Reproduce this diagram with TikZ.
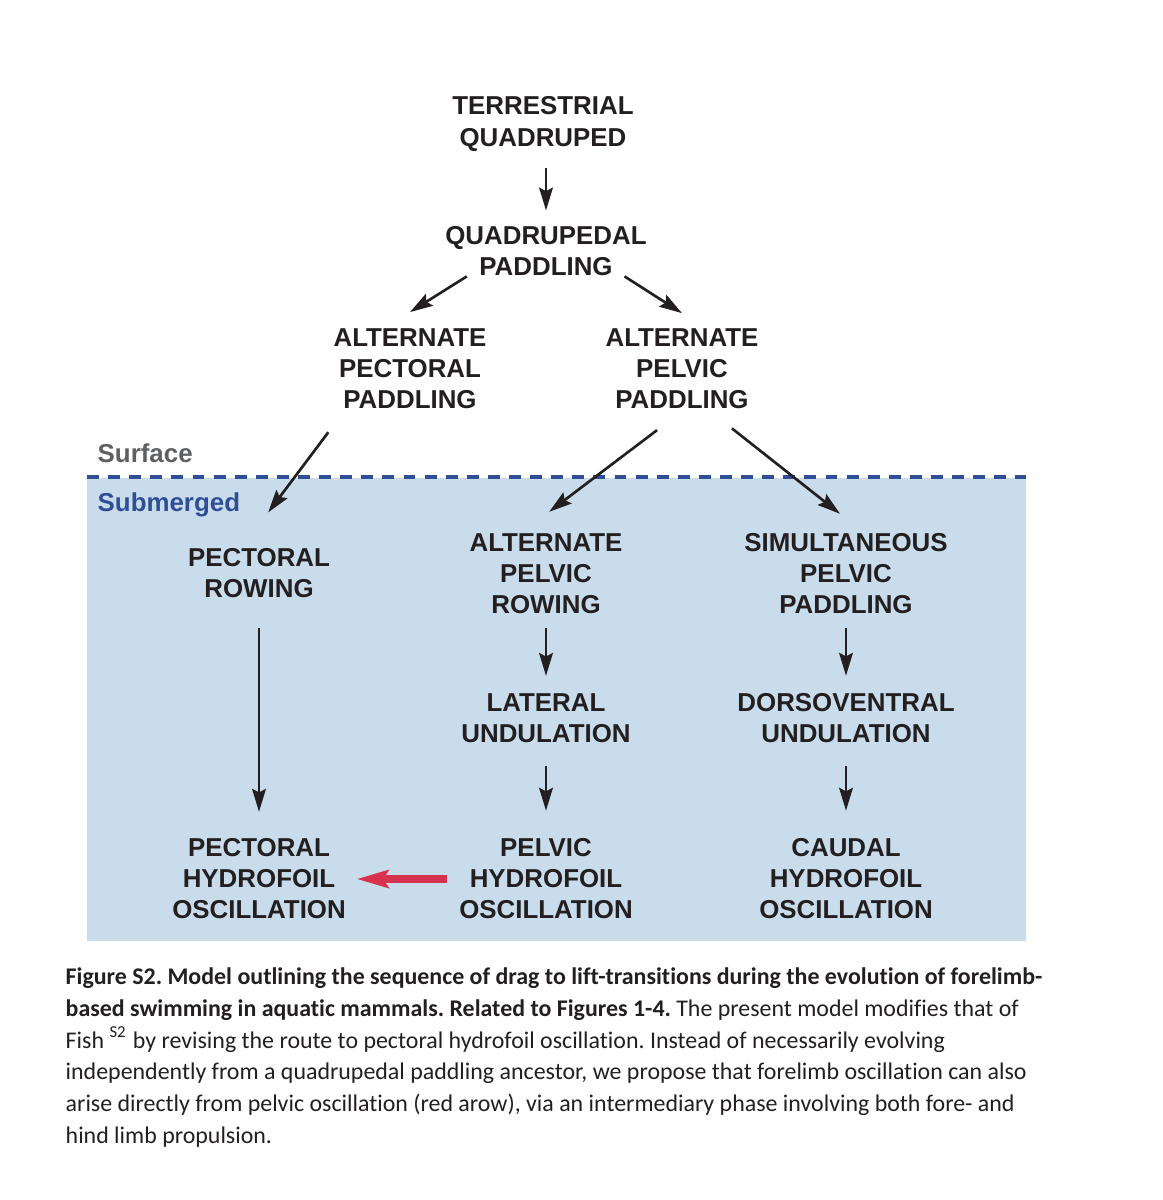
\documentclass[tikz,border=0pt]{standalone}
\usepackage{fontspec}
\setmainfont{Liberation Sans}
\newfontfamily\captionfont[Ligatures=NoCommon]{Carlito}
\usetikzlibrary{arrows.meta}
\definecolor{water}{HTML}{C8DCEC}
\definecolor{waterline}{HTML}{2F4E96}
\definecolor{surfacegray}{HTML}{5E5F61}
\definecolor{inkdark}{HTML}{231F20}
\definecolor{redarrow}{HTML}{D8334E}
\tikzset{
    stage/.style = {align=center, inner sep=0pt, text=inkdark, font=\bfseries\fontsize{7.36}{8.82}\selectfont},
    zone-label/.style = {anchor=base west, inner sep=0pt, font=\bfseries\fontsize{7.36}{8.82}\selectfont},
    flow-arrow/.style = {draw=inkdark, line width=0.75pt, -{Stealth[length=6.5pt, width=3.9pt, inset=1pt]}},
    red-arrow/.style = {draw=redarrow, line width=2pt, -{Stealth[length=9pt, width=5pt, inset=1.5pt]}},
}

\begin{document}
\frenchspacing
\begin{tikzpicture}[x=0.01cm, y=-0.01cm]
\fill[white] (0,0) rectangle (1162,1200);
\useasboundingbox (0,0) rectangle (1162,1200);

% water
\fill[water] (87,478) rectangle (1026,941);
\draw[waterline, line width=1.1pt, dash pattern=on 3.4pt off 2.6pt] (87,477) -- (1026,477);
\node[zone-label, text=surfacegray] (surface) at (97,462) {Surface};
\node[zone-label, text=waterline] (submerged) at (97,511) {Submerged};

% stages
\node[stage] (tq) at (543,124) {TERRESTRIAL\\QUADRUPED};
\node[stage] (qp) at (546,251) {QUADRUPEDAL\\PADDLING};
\node[stage] (apecp) at (410,369) {ALTERNATE\\PECTORAL\\PADDLING};
\node[stage] (apelp) at (682,369) {ALTERNATE\\PELVIC\\PADDLING};
\node[stage] (pr) at (259,573) {PECTORAL\\ROWING};
\node[stage] (apr) at (546,574) {ALTERNATE\\PELVIC\\ROWING};
\node[stage] (spp) at (846,574) {SIMULTANEOUS\\PELVIC\\PADDLING};
\node[stage] (lu) at (546,718) {LATERAL\\UNDULATION};
\node[stage] (du) at (846,718) {DORSOVENTRAL\\UNDULATION};
\node[stage] (pho) at (259,879) {PECTORAL\\HYDROFOIL\\OSCILLATION};
\node[stage] (pvho) at (546,879) {PELVIC\\HYDROFOIL\\OSCILLATION};
\node[stage] (cho) at (846,879) {CAUDAL\\HYDROFOIL\\OSCILLATION};

% transitions
\draw[flow-arrow, shorten <=4.7pt, shorten >=4.3pt] (tq.south -| qp.north) -- (qp.north);
\draw[flow-arrow] ([xshift=6.3pt]qp.south west) -- ([yshift=4.6pt]apecp.north);
\draw[flow-arrow] ([xshift=-6.5pt]qp.south east) -- ([yshift=4.3pt]apelp.north);
\draw[flow-arrow] ([shift={(-1.3pt,-6.4pt)}]apecp.south west) -- ([shift={(2.6pt,10pt)}]pr.north);
\draw[flow-arrow] ([shift={(-7.1pt,-5.8pt)}]apelp.south) -- ([shift={(0.9pt,6.1pt)}]apr.north);
\draw[flow-arrow] ([shift={(14.2pt,-5.3pt)}]apelp.south) -- ([shift={(-1.7pt,5.5pt)}]spp.north);
\draw[flow-arrow, shorten <=8.5pt, shorten >=7.5pt] (pr) -- (pho);
\draw[flow-arrow, shorten <=3.8pt, shorten >=4.8pt] (apr) -- (lu);
\draw[flow-arrow, shorten <=3.8pt, shorten >=4.8pt] (spp) -- (du);
\draw[flow-arrow, shorten <=6.5pt, shorten >=7.8pt] (lu) -- (pvho);
\draw[flow-arrow, shorten <=6.5pt, shorten >=7.8pt] (du) -- (cho);
\draw[red-arrow, shorten <=3.2pt, shorten >=2.9pt] (pvho) -- (pho);

% caption
\node[anchor=base west, inner sep=0pt, align=left, text=inkdark, font=\captionfont\fontsize{6.8}{9}\selectfont] (caption) at (65,1143) {%
\textbf{Figure S2. Model outlining the sequence of drag to lift-transitions during the evolution of forelimb-}\\
\textbf{based swimming in aquatic mammals. Related to Figures 1-4.} The present model modifies that of\\
Fish \textsuperscript{S2} by revising the route to pectoral hydrofoil oscillation. Instead of necessarily evolving\\
independently from a quadrupedal paddling ancestor, we propose that forelimb oscillation can also\\
arise directly from pelvic oscillation (red arow), via an intermediary phase involving both fore- and\\
hind limb propulsion.};
\end{tikzpicture}
\end{document}
